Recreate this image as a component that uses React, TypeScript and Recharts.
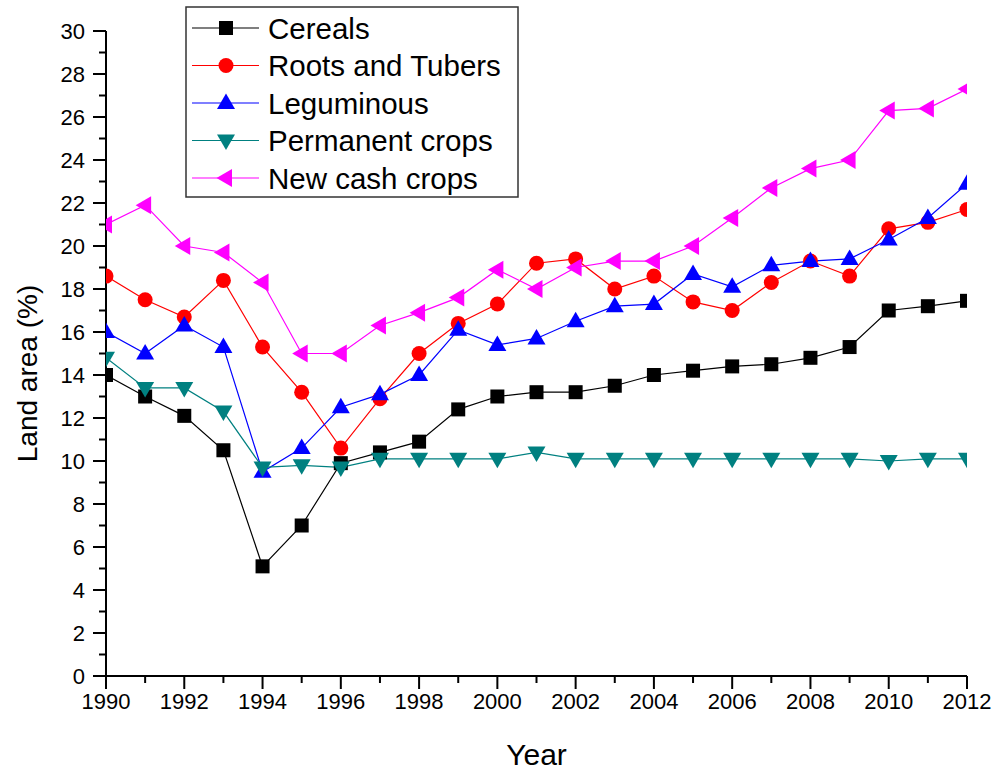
import React from "react";
import { LineChart, Line, XAxis, YAxis } from "recharts";

const years = [1990, 1991, 1992, 1993, 1994, 1995, 1996, 1997, 1998, 1999, 2000, 2001, 2002, 2003, 2004, 2005, 2006, 2007, 2008, 2009, 2010, 2011, 2012];
const cereals = [14.0, 13.0, 12.1, 10.5, 5.1, 7.0, 9.9, 10.4, 10.9, 12.4, 13.0, 13.2, 13.2, 13.5, 14.0, 14.2, 14.4, 14.5, 14.8, 15.3, 17.0, 17.2, 17.45];
const roots = [18.6, 17.5, 16.7, 18.4, 15.3, 13.2, 10.6, 12.9, 15.0, 16.4, 17.3, 19.2, 19.4, 18.0, 18.6, 17.4, 17.0, 18.3, 19.3, 18.6, 20.8, 21.1, 21.7];
const leguminous = [16.0, 15.0, 16.3, 15.3, 9.5, 10.6, 12.5, 13.1, 14.0, 16.1, 15.4, 15.7, 16.5, 17.2, 17.3, 18.7, 18.1, 19.1, 19.3, 19.4, 20.3, 21.3, 22.9];
const permanent = [14.8, 13.4, 13.4, 12.3, 9.7, 9.8, 9.7, 10.1, 10.1, 10.1, 10.1, 10.4, 10.1, 10.1, 10.1, 10.1, 10.1, 10.1, 10.1, 10.1, 10.0, 10.1, 10.1];
const newCash = [21.0, 21.9, 20.0, 19.7, 18.3, 15.0, 15.0, 16.3, 16.9, 17.6, 18.9, 18.0, 19.0, 19.3, 19.3, 20.0, 21.3, 22.7, 23.6, 24.0, 26.3, 26.4, 27.3];

const xTicks = years;
const yTicks = Array.from({ length: 31 }, (_, i) => i);

const seriesDefs = [
  { key: "cereals", name: "Cereals", color: "#000000", marker: "square" },
  { key: "roots", name: "Roots and Tubers", color: "#FF0000", marker: "circle" },
  { key: "leguminous", name: "Leguminous", color: "#0000FF", marker: "up" },
  { key: "permanent", name: "Permanent crops", color: "#008080", marker: "down" },
  { key: "newCash", name: "New cash crops", color: "#FF00FF", marker: "left" },
];

const data = years.map((y, i) => ({
  year: y,
  cereals: cereals[i],
  roots: roots[i],
  leguminous: leguminous[i],
  permanent: permanent[i],
  newCash: newCash[i],
}));

const FONT = "'Liberation Sans', Arial, sans-serif";

function MarkerShape({ type, cx, cy, color }: { type: string; cx: number; cy: number; color: string }) {
  if (cx == null || cy == null) return null;
  switch (type) {
    case "square":
      return <rect x={cx - 7} y={cy - 7} width={14} height={14} fill={color} />;
    case "circle":
      return <circle cx={cx} cy={cy} r={7.5} fill={color} />;
    case "up":
      return <polygon points={`${cx},${cy - 9.5} ${cx - 9},${cy + 6} ${cx + 9},${cy + 6}`} fill={color} />;
    case "down":
      return <polygon points={`${cx},${cy + 9.5} ${cx - 9},${cy - 6} ${cx + 9},${cy - 6}`} fill={color} />;
    case "left":
      return <polygon points={`${cx - 9.5},${cy} ${cx + 6},${cy - 9} ${cx + 6},${cy + 9}`} fill={color} />;
    default:
      return null;
  }
}

const XTick = (props: any) => {
  const { x, y, payload } = props;
  const major = payload.value % 2 === 0;
  return (
    <g>
      <line x1={x} y1={y} x2={x} y2={y + (major ? 13 : 7)} stroke="#000" strokeWidth={2} />
      {major && (
        <text x={x} y={y + 33} textAnchor="middle" fontSize={22} fontFamily={FONT} fill="#000">
          {payload.value}
        </text>
      )}
    </g>
  );
};

const YTick = (props: any) => {
  const { x, y, payload } = props;
  const major = payload.value % 2 === 0;
  return (
    <g>
      <line x1={x} y1={y} x2={x - (major ? 13 : 7)} y2={y} stroke="#000" strokeWidth={2} />
      {major && (
        <text x={x - 21} y={y} dy="0.36em" textAnchor="end" fontSize={22} fontFamily={FONT} fill="#000">
          {payload.value}
        </text>
      )}
    </g>
  );
};

const LegendBox = () => (
  <svg width={336} height={192} style={{ display: "block" }}>
    <rect x={1} y={1} width={332} height={190} fill="#fff" stroke="#333" strokeWidth={1.5} />
    {seriesDefs.map((s, i) => {
      const cy = 22 + i * 37.5;
      return (
        <g key={s.key}>
          <line x1={7} y1={cy} x2={74} y2={cy} stroke={s.color} strokeWidth={1.2} />
          <MarkerShape type={s.marker} cx={41} cy={cy} color={s.color} />
          <text x={83} y={cy} dy="0.36em" fontSize={29.5} fontFamily={FONT} fill="#000">
            {s.name}
          </text>
        </g>
      );
    })}
  </svg>
);

export default function App() {
  return (
    <div style={{ position: "absolute", left: 0, top: 0, width: 1000, height: 773, background: "#fff" }}>
      <LineChart width={1000} height={773} data={data} margin={{ top: 31, right: 33, bottom: 57, left: 46 }}>
        <XAxis
          dataKey="year"
          type="number"
          domain={[1990, 2012]}
          ticks={xTicks}
          interval={0}
          allowDataOverflow
          height={40}
          tickSize={0}
          tickMargin={0}
          tick={<XTick />}
          axisLine={{ stroke: "#000", strokeWidth: 2 }}
          tickLine={false}
          label={{
            content: (p: any) => {
              const vb = p.viewBox || { x: 106, width: 861, y: 676 };
              return (
                <text x={vb.x + vb.width / 2} y={765} textAnchor="middle" fontSize={30} fontFamily={FONT} fill="#000">
                  Year
                </text>
              );
            },
          }}
        />
        <YAxis
          type="number"
          domain={[0, 30]}
          ticks={yTicks}
          interval={0}
          width={60}
          tickSize={0}
          tickMargin={0}
          tick={<YTick />}
          axisLine={{ stroke: "#000", strokeWidth: 2 }}
          tickLine={false}
          label={{
            content: (p: any) => {
              const vb = p.viewBox || { y: 31, height: 645 };
              const cy = vb.y + vb.height / 2 + 20;
              return (
                <text x={27} y={cy} textAnchor="middle" dominantBaseline="central" transform={`rotate(-90 27 ${cy})`} fontSize={28} fontFamily={FONT} fill="#000">
                  Land area (%)
                </text>
              );
            },
          }}
        />
        {seriesDefs.map((s) => (
          <Line
            key={s.key}
            dataKey={s.key}
            name={s.name}
            stroke={s.color}
            strokeWidth={1.2}
            isAnimationActive={false}
            activeDot={false}
            dot={(p: any) => <MarkerShape key={`${s.key}-${p.index}`} type={s.marker} cx={p.cx} cy={p.cy} color={s.color} />}
          />
        ))}
      </LineChart>
      <div style={{ position: "absolute", left: 185, top: 6 }}>
        <LegendBox />
      </div>
    </div>
  );
}
